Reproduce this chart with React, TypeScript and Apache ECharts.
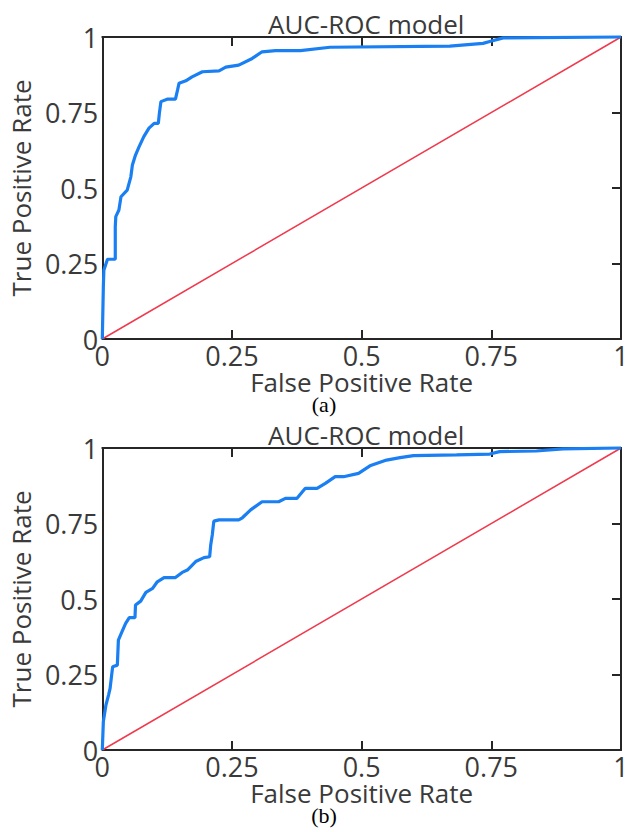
import React, { useEffect, useRef } from "react";
import * as echarts from "echarts";

// ROC curve (a): [False Positive Rate, True Positive Rate]
const rocA: [number, number][] = [
  [0, 0], [0.002, 0.173], [0.003, 0.228], [0.01, 0.264], [0.025, 0.264],
  [0.025, 0.372], [0.026, 0.405], [0.032, 0.427], [0.036, 0.471], [0.048, 0.493],
  [0.055, 0.537], [0.058, 0.576], [0.064, 0.609], [0.071, 0.637], [0.08, 0.67],
  [0.09, 0.698], [0.1, 0.714], [0.108, 0.714], [0.11, 0.747], [0.113, 0.786],
  [0.125, 0.794], [0.141, 0.794], [0.145, 0.824], [0.148, 0.847], [0.161, 0.855],
  [0.173, 0.868], [0.193, 0.885], [0.225, 0.888], [0.238, 0.9], [0.263, 0.907],
  [0.289, 0.929], [0.308, 0.951], [0.334, 0.955], [0.382, 0.955], [0.439, 0.966],
  [0.67, 0.97], [0.734, 0.979], [0.747, 0.985], [0.773, 0.997], [1, 1],
];

// ROC curve (b)
const rocB: [number, number][] = [
  [0, 0], [0.002, 0.094], [0.007, 0.149], [0.012, 0.182], [0.015, 0.204],
  [0.018, 0.248], [0.02, 0.276], [0.029, 0.281], [0.031, 0.364], [0.038, 0.392],
  [0.045, 0.419], [0.052, 0.438], [0.063, 0.438], [0.064, 0.48], [0.074, 0.493],
  [0.084, 0.522], [0.097, 0.535], [0.106, 0.557], [0.119, 0.571], [0.141, 0.571],
  [0.154, 0.588], [0.164, 0.596], [0.18, 0.624], [0.196, 0.637], [0.207, 0.64],
  [0.209, 0.679], [0.212, 0.712], [0.215, 0.758], [0.225, 0.762], [0.263, 0.762],
  [0.27, 0.769], [0.286, 0.795], [0.308, 0.822], [0.34, 0.822], [0.353, 0.833],
  [0.375, 0.833], [0.391, 0.866], [0.414, 0.866], [0.43, 0.883], [0.449, 0.905],
  [0.465, 0.905], [0.494, 0.916], [0.516, 0.941], [0.548, 0.96], [0.574, 0.968],
  [0.6, 0.975], [0.683, 0.977], [0.747, 0.98], [0.766, 0.988], [0.837, 0.99],
  [0.888, 0.997], [1, 1],
];

// Chance diagonal
const chance: [number, number][] = [[0, 0], [1, 1]];

const xTickLabels = ["0", "0.25", "0.5", "0.75", "1"];
const yTickLabels = ["0", "0.25", "0.5", "0.75", "1"];
const panelTitles = ["AUC-ROC model", "AUC-ROC model"];
const panelTags = ["(a)", "(b)"];
const xName = "False Positive Rate";
const yName = "True Positive Rate";

const FONT = "'Open Sans', 'Noto Sans', sans-serif";
const TEXT = "#3a3a3a";
const AXIS = "#262626";
const BLUE = "#1a7ff2";
const RED = "#f0394c";

export default function App() {
  const ref = useRef<HTMLDivElement>(null);

  useEffect(() => {
    if (!ref.current) return;
    const chart = echarts.init(ref.current, undefined, { renderer: "svg" });

    const gridTops = [37, 448];
    const gridLeft = 101.5;
    const gridW = 519.5;
    const gridH = 302;

    const fmt = (labels: string[]) => (v: number) => {
      const i = Math.round(v / 0.25);
      return labels[i] ?? "";
    };

    const lineStyle = { color: AXIS, width: 2 };
    const xAxes: any[] = [];
    const yAxes: any[] = [];
    [0, 1].forEach((g) => {
      xAxes.push({
        type: "value", gridIndex: g, min: 0, max: 1, interval: 0.25, position: "bottom",
        name: xName, nameLocation: "middle", nameGap: 29,
        nameTextStyle: { fontFamily: FONT, fontSize: 26, color: TEXT, lineHeight: 22 },
        axisLine: { show: true, onZero: false, lineStyle },
        axisTick: { show: true, inside: true, length: 9, lineStyle },
        splitLine: { show: false },
        axisLabel: {
          show: true, formatter: fmt(xTickLabels), fontFamily: FONT, fontSize: 27,
          color: TEXT, margin: 4, lineHeight: 24, showMinLabel: true, showMaxLabel: true,
        },
      });
      xAxes.push({
        type: "value", gridIndex: g, min: 0, max: 1, interval: 0.25, position: "top",
        axisLine: { show: true, onZero: false, lineStyle },
        axisTick: { show: true, inside: true, length: 9, lineStyle },
        splitLine: { show: false },
        axisLabel: { show: false },
      });
      yAxes.push({
        type: "value", gridIndex: g, min: 0, max: 1, interval: 0.25, position: "left",
        name: yName, nameLocation: "middle", nameGap: 60,
        nameTextStyle: { fontFamily: FONT, fontSize: 26, color: TEXT },
        axisLine: { show: true, onZero: false, lineStyle },
        axisTick: { show: true, inside: false, length: 0, lineStyle },
        splitLine: { show: false },
        axisLabel: {
          show: true, formatter: fmt(yTickLabels), fontFamily: FONT, fontSize: 27,
          color: TEXT, margin: 4, lineHeight: 22, showMinLabel: true, showMaxLabel: true,
        },
      });
      yAxes.push({
        type: "value", gridIndex: g, min: 0, max: 1, interval: 0.25, position: "right",
        axisLine: { show: true, onZero: false, lineStyle },
        axisTick: { show: true, inside: true, length: 9, lineStyle },
        splitLine: { show: false },
        axisLabel: { show: false },
      });
    });

    const roc = [rocA, rocB];
    const series: any[] = [];
    [0, 1].forEach((g) => {
      series.push({
        type: "line", xAxisIndex: g * 2, yAxisIndex: g * 2, data: chance,
        showSymbol: false, lineStyle: { color: RED, width: 1.5 }, z: 2,
      });
      series.push({
        type: "line", xAxisIndex: g * 2, yAxisIndex: g * 2, data: roc[g],
        showSymbol: false, lineStyle: { color: BLUE, width: 3.2 }, z: 3, clip: false,
      });
    });

    chart.setOption({
      animation: false,
      backgroundColor: "#ffffff",
      title: [0, 1].map((g) => ({
        text: panelTitles[g],
        left: gridLeft + gridW / 2,
        textAlign: "center",
        top: gridTops[g] - 31,
        textStyle: { fontFamily: FONT, fontSize: 26, fontWeight: "normal", color: TEXT },
      })),
      grid: gridTops.map((t) => ({ left: gridLeft, top: t, width: gridW, height: gridH })),
      xAxis: xAxes,
      yAxis: yAxes,
      series,
      graphic: [0, 1].map((g) => ({
        type: "text",
        x: 324,
        y: gridTops[g] + gridH + 65,
        style: {
          text: panelTags[g], fill: "#000", fontFamily: "'Liberation Serif', 'Times New Roman', serif",
          fontSize: 22, lineHeight: 18, textAlign: "center", textVerticalAlign: "middle",
        },
      })),
    });

    return () => chart.dispose();
  }, []);

  return (
    <div
      ref={ref}
      style={{ position: "fixed", left: 0, top: 0, width: 638, height: 832, background: "#fff" }}
    />
  );
}
